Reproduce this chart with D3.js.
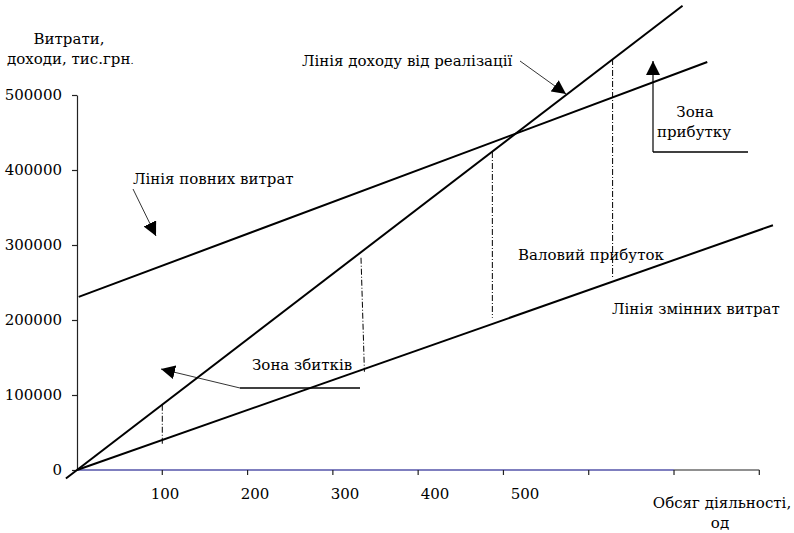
<!DOCTYPE html>
<html>
<head>
<meta charset="utf-8">
<script src="https://cdn.jsdelivr.net/npm/d3@7"></script>
<style>
  html, body { margin: 0; padding: 0; background: #fff; }
</style>
</head>
<body>
<svg id="chart" width="794" height="533"></svg>
<script>
// Break-even chart: revenue, total costs and variable costs against volume.

// Axis ticks and labels
const volumeTicks = [100, 200, 300, 400, 500, 600, 700, 800];
const volumeLabels = [100, 200, 300, 400, 500];
const moneyTicks = [0, 100000, 200000, 300000, 400000, 500000];

// Lines (volume, units -> value, UAH thousand)
const revenueUnits = [-13, 710];
const revenueValues = [-11300, 619100];
const totalCostUnits = [2, 739];
const totalCostValues = [230800, 544000];
const variableCostUnits = [0, 816];
const variableCostValues = [0, 326400];

// Vertical gaps between revenue and variable costs (dash-dot)
const gapUnitsTop = [100, 333, 487, 628];
const gapUnitsBottom = [100, 337, 487, 628];
const gapValuesTop = [87000, 283000, 424000, 548000];
const gapValuesBottom = [33000, 131000, 203000, 257000];

const SERIF = "DejaVu Serif";
const svg = d3.select("#chart");
const FS = 15;

const x = d3.scaleLinear().domain([0, 800]).range([77, 759.3]);
const y = d3.scaleLinear().domain([0, 500000]).range([470, 95]);
// tick labels on the volume axis sit a little to the right of their ticks
const xLabel = d3.scaleLinear().domain([100, 500]).range([165, 525]);

// ---- Y axis ----
const yAxis = d3.axisLeft(y)
  .tickValues(moneyTicks)
  .tickFormat(d => String(d))
  .tickSize(5)
  .tickSizeOuter(0)
  .tickPadding(10);
const gy = svg.append("g").attr("transform", `translate(${x(0)},0)`).call(yAxis);
gy.selectAll("path, line").attr("stroke", "#222").attr("stroke-width", 1.2);
gy.selectAll("text")
  .attr("font-family", SERIF)
  .attr("font-size", 15)
  .attr("fill", "#000");

// ---- X axis ----
const xAxisY = y(0);
svg.append("line")
  .attr("x1", x(0)).attr("x2", x(700))
  .attr("y1", xAxisY).attr("y2", xAxisY)
  .attr("stroke", "#000080").attr("stroke-width", 1.2);
svg.append("line")
  .attr("x1", x(700)).attr("x2", x(800))
  .attr("y1", xAxisY).attr("y2", xAxisY)
  .attr("stroke", "#222").attr("stroke-width", 1.2);
svg.append("g").selectAll("line").data(volumeTicks).join("line")
  .attr("x1", d => x(d)).attr("x2", d => x(d))
  .attr("y1", xAxisY).attr("y2", xAxisY + 5)
  .attr("stroke", "#222").attr("stroke-width", 1.2);
svg.append("g").selectAll("text").data(volumeLabels).join("text")
  .attr("x", d => xLabel(d)).attr("y", xAxisY + 29)
  .attr("text-anchor", "middle")
  .attr("font-family", SERIF)
  .attr("font-size", 15)
  .text(d => d);

// ---- Gap lines ----
svg.append("g").selectAll("line").data(gapUnitsTop).join("line")
  .attr("x1", (d, i) => x(d)).attr("y1", (d, i) => y(gapValuesTop[i]))
  .attr("x2", (d, i) => x(gapUnitsBottom[i])).attr("y2", (d, i) => y(gapValuesBottom[i]))
  .attr("stroke", "#000").attr("stroke-width", 1)
  .attr("stroke-dasharray", "6,2,1,2");

// ---- Main lines ----
const lineGen = d3.line().x(d => x(d[0])).y(d => y(d[1]));
const series = [
  d3.zip(revenueUnits, revenueValues),
  d3.zip(totalCostUnits, totalCostValues),
  d3.zip(variableCostUnits, variableCostValues)
];
svg.append("g").selectAll("path").data(series).join("path")
  .attr("d", lineGen)
  .attr("fill", "none")
  .attr("stroke", "#000")
  .attr("stroke-width", 2);

// ---- Callouts ----
svg.append("defs").append("marker")
  .attr("id", "tri")
  .attr("viewBox", "0 0 10 10")
  .attr("refX", 10).attr("refY", 5)
  .attr("markerWidth", 14).attr("markerHeight", 14)
  .attr("markerUnits", "userSpaceOnUse")
  .attr("orient", "auto")
  .append("path").attr("d", "M0,0 L10,5 L0,10 Z").attr("fill", "#000");

function leader(x1, y1, x2, y2, w) {
  svg.append("line")
    .attr("x1", x1).attr("y1", y1).attr("x2", x2).attr("y2", y2)
    .attr("stroke", "#000").attr("stroke-width", w || 0.8)
    .attr("marker-end", "url(#tri)");
}
function plain(x1, y1, x2, y2, w) {
  svg.append("line")
    .attr("x1", x1).attr("y1", y1).attr("x2", x2).attr("y2", y2)
    .attr("stroke", "#000").attr("stroke-width", w || 1.5);
}
function label(tx, ty, s, anchor) {
  return svg.append("text")
    .attr("x", tx).attr("y", ty)
    .attr("text-anchor", anchor || "start")
    .attr("font-family", SERIF)
    .attr("font-size", FS)
    .text(s);
}

// revenue line callout
label(302, 66, "Лінія доходу від реалізації");
leader(520, 61, 566, 94);

// total cost callout
label(133, 184, "Лінія повних витрат");
leader(133, 189, 156, 236);

// loss zone
label(252, 370, "Зона збитків");
plain(240, 388, 360, 388);
leader(240, 388, 161, 369);

// profit zone
label(695, 117, "Зона", "middle");
label(694, 137, "прибутку", "middle");
plain(653, 152, 748, 152);
leader(653, 152, 653, 61, 1.2);

label(518, 260, "Валовий прибуток");
label(612, 314, "Лінія змінних витрат");

// axis titles
label(69, 44, "Витрати,", "middle");
const t2 = label(7, 64, "доходи, тис.грн", "start");
t2.append("tspan").attr("font-size", 10).text(".");

label(722, 508, "Обсяг діяльності,", "middle");
label(720, 528, "од", "middle");
</script>
</body>
</html>
